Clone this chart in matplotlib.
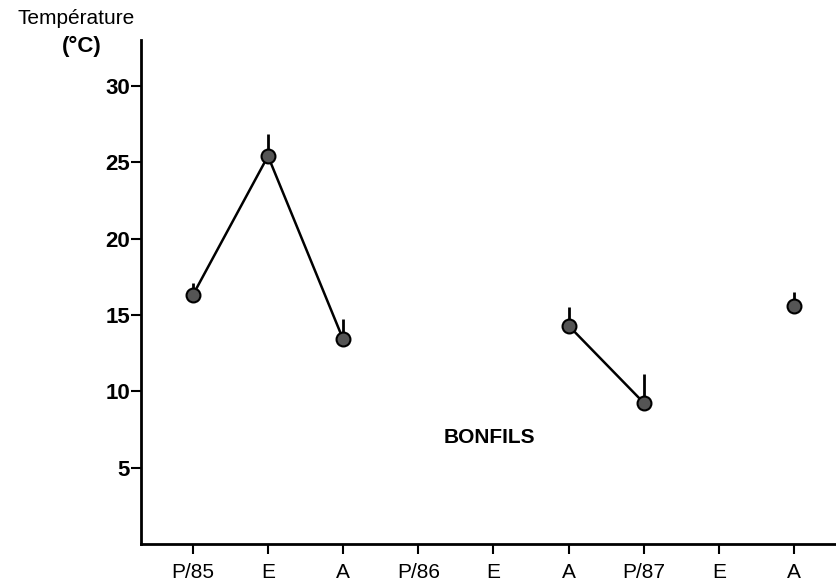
import numpy as np
import matplotlib
matplotlib.use("Agg")
import matplotlib.pyplot as plt

plt.rcParams['font.family'] = ['Liberation Sans', 'DejaVu Sans']

# saisons (printemps / ete / automne), 1985-1987
saisons = ["P/85", "E", "A", "P/86", "E", "A", "P/87", "E", "A"]
# temperature moyenne par saison (None = pas de mesure)
temp = [16.3, 25.4, 13.4, None, None, 14.3, 9.25, None, 15.6]
# ecart-type (barre vers le haut seulement)
ecart = [0.8, 1.45, 1.3, None, None, 1.25, 1.85, None, 0.9]

x = np.arange(len(saisons))
y = np.array([np.nan if v is None else v for v in temp])
e = np.array([np.nan if v is None else v for v in ecart])

fig = plt.figure(figsize=(8.36, 5.85), dpi=100)
ax = fig.add_axes([0.1687, 0.0701, 0.8313, 0.8615])

ax.plot(x, y, color="black", lw=1.8, zorder=2)
ok = ~np.isnan(y)
ax.vlines(x[ok], y[ok], y[ok] + e[ok], color="black", lw=2, zorder=2)
ax.plot(x[ok], y[ok], "o", ms=10, mfc="#555555", mec="black", mew=1.5, zorder=3)

ax.text(3.95, 7.0, "BONFILS", ha="center", va="center", fontsize=15, fontweight="bold")

ax.set_xlim(-0.69, 8.56)
ax.set_ylim(0, 33)
ax.set_xticks(x)
ax.set_xticklabels(saisons, fontsize=15)
ax.set_yticks([5, 10, 15, 20, 25, 30])
ax.set_yticklabels(["5", "10", "15", "20", "25", "30"], fontsize=16, fontweight="bold")
ax.tick_params(axis="y", direction="out", length=7, width=1.5, pad=1)
ax.tick_params(axis="x", direction="out", length=7, width=1.5, pad=7)
for s in ["top", "right"]:
    ax.spines[s].set_visible(False)
for s in ["left", "bottom"]:
    ax.spines[s].set_linewidth(2)

fig.text(0.0215, 0.968, "Température", fontsize=15, ha="left", va="center")
fig.text(0.074, 0.92, "(°C)", fontsize=16, fontweight="bold", ha="left", va="center")

fig.savefig("out.png", dpi=100)
